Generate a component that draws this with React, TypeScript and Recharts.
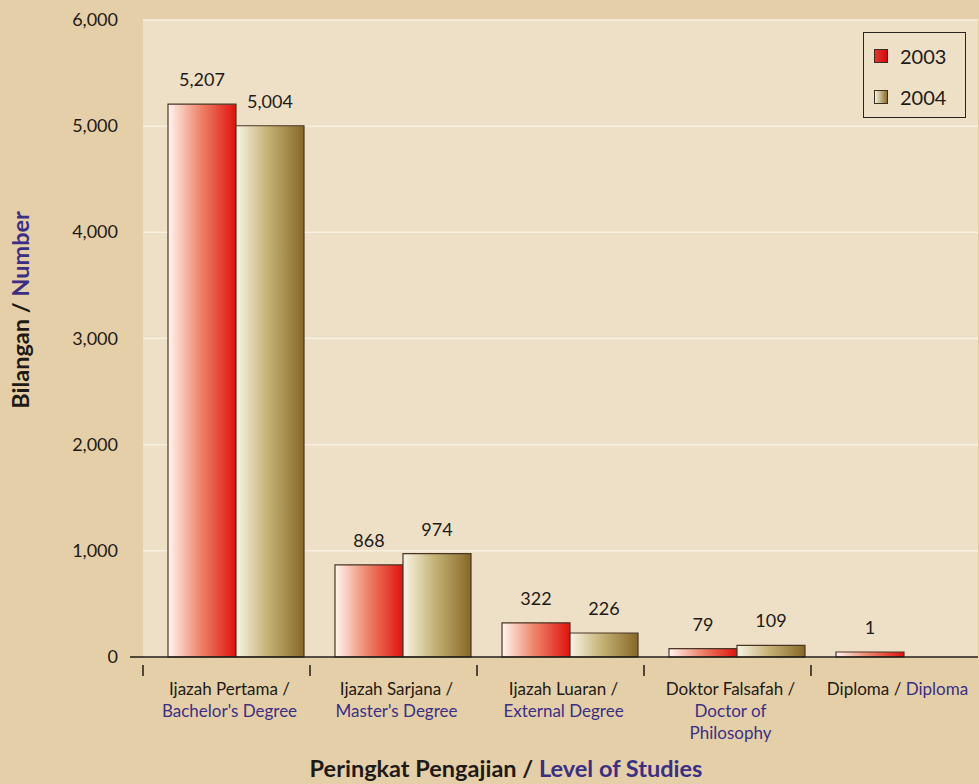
import React from "react";
import { Bar, BarChart, CartesianGrid, LabelList, Legend, XAxis, YAxis } from "recharts";

const categories = ["Bachelor", "Master", "External", "PhD", "Diploma"];
const values2003 = [5207, 868, 322, 79, 1];
const values2004: (number | null)[] = [5004, 974, 226, 109, null];
const yTicks = [0, 1000, 2000, 3000, 4000, 5000, 6000];

// each tick label: lines of [text, lang] segments
const tickLabels: [string, "ms" | "en"][][][] = [
  [[["Ijazah Pertama /", "ms"]], [["Bachelor's Degree", "en"]]],
  [[["Ijazah Sarjana /", "ms"]], [["Master's Degree", "en"]]],
  [[["Ijazah Luaran /", "ms"]], [["External Degree", "en"]]],
  [[["Doktor Falsafah /", "ms"]], [["Doctor of", "en"]], [["Philosophy", "en"]]],
  [[["Diploma / ", "ms"], ["Diploma", "en"]]],
];

const data = categories.map((cat, i) => ({
  cat,
  y2003: values2003[i],
  y2004: values2004[i],
}));

const FONT = "Lato, 'Open Sans', sans-serif";
const INK = "#1e1a16";
const PURPLE = "#3a2f85";

const PLOT_W = 835;
const SHIFT = 9; // bars sit a little right of the category centre
const HALF_BAND = PLOT_W / categories.length / 2;

const CatTick = (props: any) => {
  const { x, y, index } = props;
  const lines = tickLabels[index];
  const left = x - SHIFT - HALF_BAND;
  return (
    <g>
      <line x1={left} y1={y} x2={left} y2={y + 11} stroke={INK} strokeWidth={1.5} />
      {lines.map((segs, li) => (
        <text
          key={li}
          x={x - SHIFT + 3}
          y={y + 30 + li * 22}
          textAnchor="middle"
          fontFamily={FONT}
          fontSize={17}
        >
          {segs.map(([t, lang], si) => (
            <tspan key={si} fill={lang === "ms" ? INK : PURPLE}>
              {t}
            </tspan>
          ))}
        </text>
      ))}
    </g>
  );
};

const YTick = (props: any) => {
  const { x, y, payload } = props;
  return (
    <g>
      {payload.value === 0 && (
        <line x1={130} y1={y} x2={143} y2={y} stroke={INK} strokeWidth={1.5} />
      )}
      <text x={x} y={y} dy={6} textAnchor="end" fontFamily={FONT} fontSize={18} fill={INK}>
        {payload.value.toLocaleString("en-US")}
      </text>
    </g>
  );
};

const LegendBox = () => (
  <div
    style={{
      width: 103,
      height: 86,
      border: "1.5px solid #2a2420",
      fontFamily: FONT,
      fontSize: 20,
      color: INK,
      boxSizing: "border-box",
      paddingTop: 12,
      paddingLeft: 10,
    }}
  >
    {[
      ["2003", "linear-gradient(90deg, #e8322a, #d10c0c)"],
      ["2004", "linear-gradient(90deg, #f6f1dc, #8a6d2a)"],
    ].map(([label, bg], i) => (
      <div key={label} style={{ display: "flex", alignItems: "center", height: 22, marginBottom: i === 0 ? 19 : 0 }}>
        <span
          style={{
            display: "inline-block",
            width: 12,
            height: 12,
            background: bg,
            border: "1px solid #3a2e22",
            marginRight: 12,
          }}
        />
        {label}
      </div>
    ))}
  </div>
);

const fmt = (v: any) => (v == null ? "" : Number(v).toLocaleString("en-US"));

export default function App() {
  return (
    <div style={{ position: "absolute", left: 0, top: 0, width: 979, height: 784, background: "#e5cfa8" }}>
      <BarChart
        width={979}
        height={784}
        data={data}
        margin={{ top: 20, right: 1, left: 0, bottom: 0 }}
        barGap={0}
      >
        <defs>
          <linearGradient id="grad2003" x1="0" y1="0" x2="1" y2="0">
            <stop offset="0%" stopColor="#fff6f0" />
            <stop offset="45%" stopColor="#ef8a70" />
            <stop offset="100%" stopColor="#e0120c" />
          </linearGradient>
          <linearGradient id="grad2004" x1="0" y1="0" x2="1" y2="0">
            <stop offset="0%" stopColor="#f8f5e4" />
            <stop offset="45%" stopColor="#c7b479" />
            <stop offset="100%" stopColor="#866827" />
          </linearGradient>
        </defs>
        <CartesianGrid vertical={false} fill="#ede0c7" stroke="#f7f0e2" strokeWidth={1.5} />
        <XAxis
          dataKey="cat"
          padding={{ left: SHIFT, right: -SHIFT }}
          interval={0}
          tickLine={false}
          tick={<CatTick />}
          axisLine={{ stroke: INK, strokeWidth: 1.5 }}
          height={127}
          label={{
            content: () => (
              <text x={506} y={777} textAnchor="middle" fontFamily={FONT} fontSize={23.5} fontWeight={700}>
                <tspan fill={INK}>Peringkat Pengajian / </tspan>
                <tspan fill={PURPLE}>Level of Studies</tspan>
              </text>
            ),
          }}
        />
        <YAxis
          width={143}
          domain={[0, 6000]}
          ticks={yTicks}
          interval={0}
          axisLine={false}
          tickLine={false}
          tickSize={0}
          tickMargin={25}
          tick={<YTick />}
          label={{
            content: () => (
              <text
                x={29}
                y={310}
                transform="rotate(-90 29 310)"
                textAnchor="middle"
                fontFamily={FONT}
                fontSize={23.5}
                fontWeight={700}
              >
                <tspan fill={INK}>Bilangan / </tspan>
                <tspan fill={PURPLE}>Number</tspan>
              </text>
            ),
          }}
        />
        <Legend
          layout="horizontal"
          verticalAlign="middle"
          align="center"
          content={<LegendBox />}
          wrapperStyle={{ position: "absolute", top: 32, left: 863, width: 103 }}
        />
        <Bar
          dataKey="y2003"
          name="2003"
          barSize={68}
          fill="url(#grad2003)"
          stroke="#4a3526"
          strokeWidth={1.2}
          minPointSize={5}
          isAnimationActive={false}
        >
          <LabelList dataKey="y2003" position="top" offset={18} formatter={fmt} fontFamily={FONT} fontSize={18} fill={INK} />
        </Bar>
        <Bar
          dataKey="y2004"
          name="2004"
          barSize={68}
          fill="url(#grad2004)"
          stroke="#4a3526"
          strokeWidth={1.2}
          isAnimationActive={false}
        >
          <LabelList dataKey="y2004" position="top" offset={18} formatter={fmt} fontFamily={FONT} fontSize={18} fill={INK} />
        </Bar>
      </BarChart>
    </div>
  );
}
